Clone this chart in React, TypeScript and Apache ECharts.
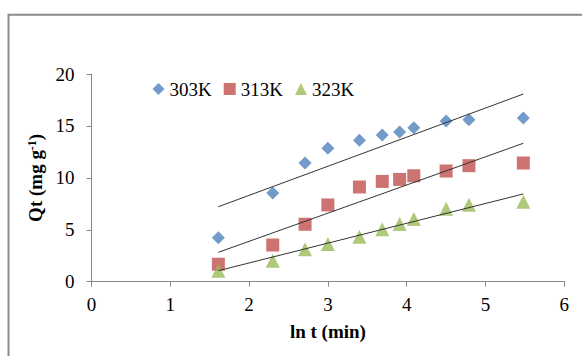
import React, { useEffect, useRef } from "react";
import * as echarts from "echarts";

const lnT = [1.61, 2.3, 2.71, 3.0, 3.4, 3.69, 3.91, 4.09, 4.5, 4.79, 5.48];
const q303 = [4.24, 8.54, 11.43, 12.85, 13.62, 14.13, 14.41, 14.83, 15.47, 15.6, 15.76];
const q313 = [1.68, 3.53, 5.53, 7.39, 9.12, 9.66, 9.85, 10.2, 10.66, 11.17, 11.43];
const q323 = [1.06, 2.02, 3.12, 3.63, 4.33, 5.05, 5.56, 6.04, 7.03, 7.41, 7.7];
const fitX = [1.61, 5.48];
const fit303 = [7.22, 18.07];
const fit313 = [2.83, 13.33];
const fit323 = [1.06, 8.45];
const seriesNames = ["303K", "313K", "323K"];
const xTicks = [0, 6, 1];
const yTicks = [0, 20, 5];

const FONT = "Liberation Serif, Times New Roman, serif";

export default function App() {
  const ref = useRef<HTMLDivElement>(null);
  useEffect(() => {
    if (!ref.current) return;
    const chart = echarts.init(ref.current, undefined, { renderer: "svg" });
    const pts = (ys: number[]) => lnT.map((x, i) => [x, ys[i]]);
    const fit = (ys: number[]) => fitX.map((x, i) => [x, ys[i]]);
    const fitLine = (name: string, ys: number[]) => ({
      name: name + " fit",
      type: "line",
      data: fit(ys),
      symbol: "none",
      lineStyle: { color: "#333", width: 1 },
      z: 5,
      silent: true,
    });
    chart.setOption({
      animation: false,
      backgroundColor: "#fff",
      textStyle: { fontFamily: FONT, color: "#000" },
      graphic: [
        {
          type: "rect",
          shape: { x: 8.5, y: 14.7, width: 620, height: 420 },
          style: { fill: "none", stroke: "#8a8a8a", lineWidth: 2 },
          silent: true,
        },
      ],
      grid: { left: 91.5, right: 17.7, top: 74, bottom: 74.3 },
      legend: {
        data: seriesNames,
        left: 152.5,
        top: 79.5,
        padding: 0,
        itemWidth: 12,
        itemHeight: 12,
        itemGap: 12,
        textStyle: { fontFamily: FONT, fontSize: 19, color: "#000" },
      },
      xAxis: {
        type: "value",
        min: xTicks[0],
        max: xTicks[1],
        interval: xTicks[2],
        name: "ln t (min)",
        nameLocation: "middle",
        nameGap: 40,
        nameTextStyle: { fontFamily: FONT, fontSize: 19, fontWeight: "bold", color: "#000" },
        axisLine: { lineStyle: { color: "#868686", width: 1 } },
        axisTick: { show: true, length: 5, lineStyle: { color: "#868686" } },
        axisLabel: { fontFamily: FONT, fontSize: 19, color: "#000", margin: 13 },
        splitLine: { show: false },
      },
      yAxis: {
        type: "value",
        min: yTicks[0],
        max: yTicks[1],
        interval: yTicks[2],
        name: "{a|Qt (mg g}{b|-1}{a|)}",
        nameLocation: "middle",
        nameGap: 37,
        nameTextStyle: {
          fontFamily: FONT,
          color: "#000",
          rich: {
            a: { fontFamily: FONT, fontSize: 19, fontWeight: "bold", color: "#000" },
            b: { fontFamily: FONT, fontSize: 12, fontWeight: "bold", color: "#000", verticalAlign: "top" },
          },
        },
        axisLine: { show: true, lineStyle: { color: "#868686", width: 1 } },
        axisTick: { show: true, length: 5, lineStyle: { color: "#868686" } },
        axisLabel: { fontFamily: FONT, fontSize: 19, color: "#000", margin: 17 },
        splitLine: { show: false },
      },
      series: [
        {
          name: seriesNames[0],
          type: "scatter",
          symbol: "diamond",
          symbolSize: 13,
          itemStyle: { color: "#4F81BD" },
          data: pts(q303),
          z: 3,
        },
        {
          name: seriesNames[1],
          type: "scatter",
          symbol: "rect",
          symbolSize: 13,
          itemStyle: { color: "#C0504D" },
          data: pts(q313),
          z: 3,
        },
        {
          name: seriesNames[2],
          type: "scatter",
          symbol: "triangle",
          symbolSize: 14,
          itemStyle: { color: "#9BBB59" },
          data: pts(q323),
          z: 3,
        },
        fitLine(seriesNames[0], fit303),
        fitLine(seriesNames[1], fit313),
        fitLine(seriesNames[2], fit323),
      ],
    });
    return () => chart.dispose();
  }, []);
  return (
    <div
      ref={ref}
      style={{ position: "absolute", left: 0, top: 0, width: 582, height: 356 }}
    />
  );
}
